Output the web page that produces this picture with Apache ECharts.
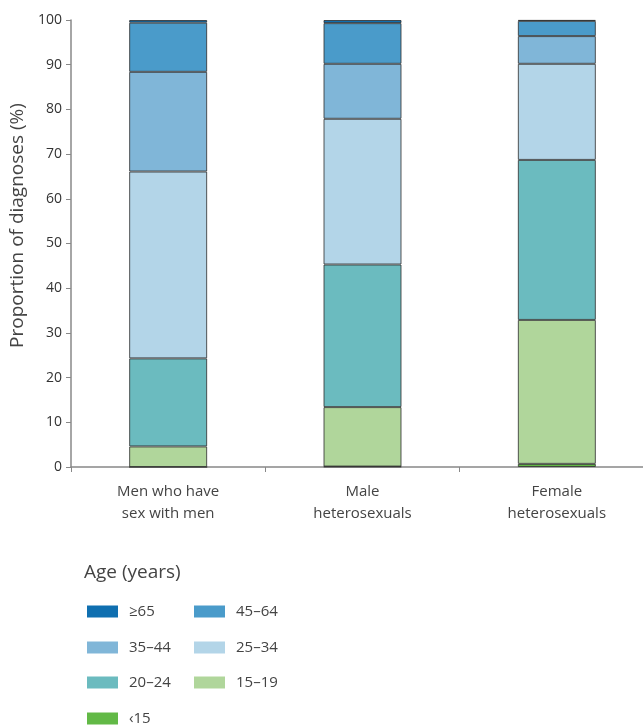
<!DOCTYPE html>
<html>
<head>
<meta charset="utf-8">
<script src="https://cdn.jsdelivr.net/npm/echarts@6/dist/echarts.min.js"></script>
<style>html,body{margin:0;padding:0;background:#fff}#c{width:643px;height:727px}</style>
</head>
<body>
<div id="c"></div>
<script>
const categories = ['Men who have\nsex with men', 'Male\nheterosexuals', 'Female\nheterosexuals'];
const ageGroups = ['<15', '15–19', '20–24', '25–34', '35–44', '45–64', '≥65'];
const legendLabels = ['‹15', '15–19', '20–24', '25–34', '35–44', '45–64', '≥65'];
const lt15 = [0, 0.1, 0.7];
const age15to19 = [4.6, 13.3, 32.2];
const age20to24 = [19.7, 31.9, 35.8];
const age25to34 = [41.8, 32.6, 21.5];
const age35to44 = [22.3, 12.3, 6.2];
const age45to64 = [11.0, 9.1, 3.4];
const age65plus = [0.6, 0.7, 0.2];
const yTicks = [0, 10, 20, 30, 40, 50, 60, 70, 80, 90, 100];

const values = [lt15, age15to19, age20to24, age25to34, age35to44, age45to64, age65plus];
const colors = ['#62b946', '#b0d69b', '#6bbbbf', '#b3d5e8', '#80b6d8', '#4a9bca', '#0f6fb0'];
const font = '"Open Sans", "Noto Sans", sans-serif';

const series = ageGroups.map((g, i) => ({
  name: legendLabels[i],
  type: 'bar',
  stack: 'total',
  barWidth: 78,
  data: values[i],
  itemStyle: { color: colors[i], borderColor: 'rgba(45,45,45,0.8)', borderWidth: 1 }
}));

// legend positions: [left, top] for each item, order ≥65, 45–64, 35–44, 25–34, 20–24, 15–19, <15
const legendOrder = [6, 5, 4, 3, 2, 1, 0];
const legendPos = [[87, 604], [194, 604], [87, 640], [194, 640], [87, 675], [194, 675], [87, 711]];
const legends = legendOrder.map((idx, k) => ({
  data: [legendLabels[idx]],
  left: legendPos[k][0],
  top: legendPos[k][1],
  padding: 0,
  itemWidth: 31,
  itemHeight: 12,
  icon: 'rect',
  selectedMode: false,
  itemStyle: { borderWidth: 0 },
  textStyle: { fontFamily: font, fontSize: 15, color: '#444', padding: [0, 0, 0, 6] }
}));

const chart = echarts.init(document.getElementById('c'), null, { renderer: 'canvas' });
chart.setOption({
  animation: false,
  backgroundColor: '#fff',
  title: {
    text: 'Age (years)',
    left: 84,
    top: 563,
    padding: 0,
    textStyle: { fontFamily: font, fontSize: 19, fontWeight: 'normal', color: '#444' }
  },
  legend: legends,
  grid: { left: 71, top: 20, width: 583, height: 447, containLabel: false, outerBoundsMode: 'none' },
  xAxis: {
    type: 'category',
    data: categories,
    axisLine: { lineStyle: { color: '#888', width: 1.5 } },
    axisTick: { show: true, length: 5, lineStyle: { color: '#888' } },
    axisLabel: { fontFamily: font, fontSize: 15, color: '#444', lineHeight: 22, margin: 14 }
  },
  yAxis: {
    type: 'value',
    min: 0,
    max: 100,
    interval: 10,
    name: 'Proportion of diagnoses (%)',
    nameLocation: 'middle',
    nameGap: 38,
    nameTextStyle: { fontFamily: font, fontSize: 19, color: '#444', padding: [0, 0, 0, 36] },
    axisLine: { show: true, lineStyle: { color: '#888', width: 1.5 } },
    axisTick: { show: true, length: 5, lineStyle: { color: '#888' } },
    splitLine: { show: false },
    axisLabel: {
      fontFamily: font, fontSize: 14, color: '#333', margin: 9,
      formatter: v => yTicks.includes(v) ? String(v) : ''
    }
  },
  series: series
});
</script>
</body>
</html>
